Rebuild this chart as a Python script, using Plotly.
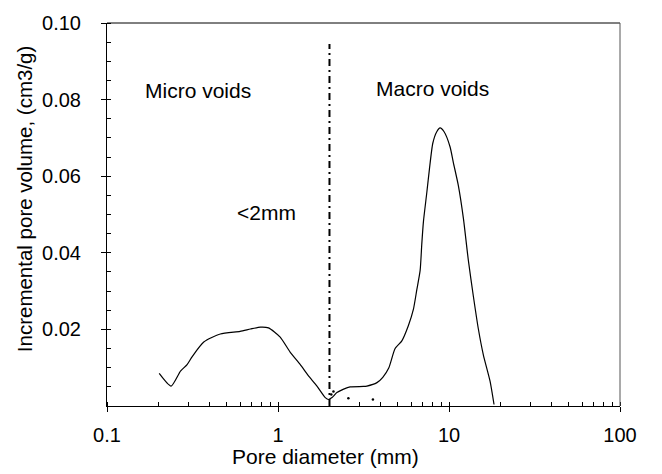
import math
import plotly.graph_objects as go

# Main curve: pore diameter (mm) vs incremental pore volume (cm3/g)
diam = [0.202, 0.237, 0.269, 0.294, 0.315, 0.368, 0.46, 0.60, 0.69, 0.79, 0.88,
        1.03, 1.18, 1.35, 1.50, 1.69, 1.89, 1.975, 2.07, 2.21, 2.42, 2.64, 3.16,
        3.31, 3.79, 4.10, 4.45, 4.84, 5.30, 5.79, 6.19, 6.48, 6.78, 6.93, 7.09,
        7.42, 7.68, 8.04, 8.48, 8.87, 9.36, 10.14, 10.61, 11.35, 12.14, 12.98,
        13.89, 14.85, 15.89, 17.38, 18.34]
volume = [0.0085, 0.0052, 0.0091, 0.0108, 0.0129, 0.0167, 0.0188, 0.0195, 0.0201,
          0.0206, 0.0204, 0.0180, 0.0140, 0.0108, 0.0080, 0.0052, 0.0022, 0.0017,
          0.0022, 0.0035, 0.0044, 0.0050, 0.0051, 0.0052, 0.0061, 0.0075, 0.0100,
          0.0150, 0.0170, 0.0210, 0.0252, 0.0303, 0.0354, 0.0422, 0.0482, 0.0558,
          0.0618, 0.0686, 0.0716, 0.0726, 0.0716, 0.0677, 0.0635, 0.0575, 0.0490,
          0.0380, 0.0286, 0.0201, 0.0133, 0.0065, 0.0004]

# Scattered dots near the boundary
dot_diam = [2.05, 2.11, 2.58, 3.59]
dot_volume = [0.0030, 0.0038, 0.0020, 0.0017]

boundary_x = [2.0, 2.0]
boundary_y = [0.0, 0.0945]

labels = ["Micro voids", "Macro voids", "<2mm"]
label_x = [0.34, 8.0, 0.86]
label_y = [0.0823, 0.0830, 0.0506]

y_ticks = [0.02, 0.04, 0.06, 0.08, 0.10]
y_tick_text = ["0.02", "0.04", "0.06", "0.08", "0.10"]
x_ticks = [0.1, 1, 10, 100]
x_tick_text = ["0.1", "1", "10", "100"]

x_title = "Pore diameter (mm)"
y_title = "Incremental pore volume, (cm3/g)"

FONT = "Liberation Sans, Arial, sans-serif"

fig = go.Figure()
fig.add_trace(go.Scatter(x=diam, y=volume, mode="lines",
                         line=dict(color="black", width=1.2, shape="spline", smoothing=0.6),
                         showlegend=False, hoverinfo="skip"))
fig.add_trace(go.Scatter(x=dot_diam, y=dot_volume, mode="markers", marker=dict(color="black", size=2.5),
                         showlegend=False, hoverinfo="skip"))
fig.add_trace(go.Scatter(x=boundary_x, y=boundary_y, mode="lines",
                         line=dict(color="black", width=2, dash="7px,4px,2px,4px"),
                         showlegend=False, hoverinfo="skip"))

for t, lx, ly in zip(labels, label_x, label_y):
    fig.add_annotation(x=math.log10(lx), y=ly, xref="x", yref="y", text=t, showarrow=False,
                       font=dict(family=FONT, size=21, color="black"))

# axis titles (offset as in the reference)
fig.add_annotation(x=0.425, y=0, xref="paper", yref="paper", yshift=-50, yanchor="middle",
                   xanchor="center", text=x_title, showarrow=False,
                   font=dict(family=FONT, size=21, color="black"))
fig.add_annotation(x=0, y=0.54, xref="paper", yref="paper", xshift=-83, xanchor="center",
                   yanchor="middle", text=y_title, textangle=-90, showarrow=False,
                   font=dict(family=FONT, size=20.5, color="black"))

fig.update_layout(
    width=662, height=474,
    margin=dict(l=107, r=42, t=14, b=68),
    paper_bgcolor="white", plot_bgcolor="white",
    font=dict(family=FONT, size=20, color="black"),
    xaxis=dict(type="log", range=[-1, 2], tickvals=x_ticks, ticktext=x_tick_text,
               ticks="outside", ticklen=5, tickcolor="black", showgrid=False, zeroline=False,
               showline=True, linecolor="black", linewidth=1, mirror=False,
               ticklabelstandoff=6,
               minor=dict(ticks="inside", ticklen=4, tickcolor="black", dtick="D1", showgrid=False)),
    yaxis=dict(range=[0, 0.1], tickvals=y_ticks, ticktext=y_tick_text,
               ticks="outside", ticklen=5, tickcolor="black", showgrid=False, zeroline=False,
               showline=True, linecolor="black", linewidth=1, mirror=False,
               ticklabelstandoff=16,
               minor=dict(ticks="inside", ticklen=4, tickcolor="black", dtick=0.005, showgrid=False)),
)
# top and right frame lines
fig.add_shape(type="line", xref="paper", yref="paper", x0=0, x1=1, y0=1, y1=1, line=dict(color="black", width=1))
fig.add_shape(type="line", xref="paper", yref="paper", x0=1, x1=1, y0=0, y1=1, line=dict(color="#555555", width=1))

fig.write_html("out.html")
